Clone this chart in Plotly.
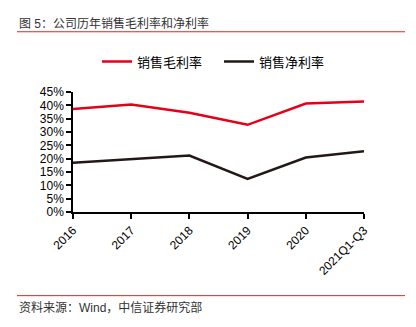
import plotly.graph_objects as go

categories = ["2016", "2017", "2018", "2019", "2020", "2021Q1-Q3"]
gross_margin = [38.6, 40.3, 37.2, 32.7, 40.7, 41.4]
net_margin = [18.5, 19.8, 21.2, 12.4, 20.4, 22.8]
y_ticks = [0, 5, 10, 15, 20, 25, 30, 35, 40, 45]
y_tick_labels = [f"{v}%" for v in y_ticks]

W, H = 416, 327
L, R, T, B = 73, 52, 91.5, 115
pw, ph = W - L - R, H - T - B

def px(x):
    return (x - L) / pw

def py(y):
    return (H - B - y) / ph

FONT = "Liberation Sans, Arial, Noto Sans CJK SC, sans-serif"

fig = go.Figure()
fig.add_trace(go.Scatter(x=categories, y=gross_margin, mode="lines", name="销售毛利率",
                         line=dict(color="#E50019", width=2.5)))
fig.add_trace(go.Scatter(x=categories, y=net_margin, mode="lines", name="销售净利率",
                         line=dict(color="#231815", width=2.5)))

fig.update_layout(
    width=W, height=H,
    margin=dict(l=L, r=R, t=T, b=B),
    paper_bgcolor="white", plot_bgcolor="white",
    font=dict(family=FONT, size=12, color="#000"),
    showlegend=True,
    legend=dict(orientation="h", x=px(97), xanchor="left", y=py(61), yanchor="middle",
                font=dict(size=13, color="#000"), itemwidth=30, entrywidth=77,
                tracegroupgap=0),
    xaxis=dict(type="category", range=[0, 5], showgrid=False, showline=True,
               linecolor="#000", linewidth=1.5, ticks="outside", ticklen=5,
               tickcolor="#000", tickwidth=1.5, tickangle=-45,
               tickfont=dict(size=12, color="#000"), zeroline=False),
    yaxis=dict(range=[0, 45], tickvals=y_ticks, ticktext=y_tick_labels, showgrid=False,
               showline=True, linecolor="#000", linewidth=1.5, ticks="outside",
               ticklen=5, tickcolor="#000", tickwidth=1.5,
               tickfont=dict(size=12, color="#000"), zeroline=False),
)

fig.add_shape(type="line", xref="paper", yref="paper", x0=px(17), x1=px(405),
              y0=py(31), y1=py(31), line=dict(color="#D7282A", width=1))
fig.add_shape(type="line", xref="paper", yref="paper", x0=px(17), x1=px(405),
              y0=py(296), y1=py(296), line=dict(color="#D7282A", width=1))

fig.add_annotation(text="图 5：公司历年销售毛利率和净利率", xref="paper", yref="paper",
                   x=px(17), y=py(23), xanchor="left", yanchor="middle", showarrow=False,
                   font=dict(size=12, color="#333"))
fig.add_annotation(text="资料来源：Wind，中信证券研究部", xref="paper", yref="paper",
                   x=px(17), y=py(308), xanchor="left", yanchor="middle", showarrow=False,
                   font=dict(size=12, color="#333"))

fig.write_html("out.html")
